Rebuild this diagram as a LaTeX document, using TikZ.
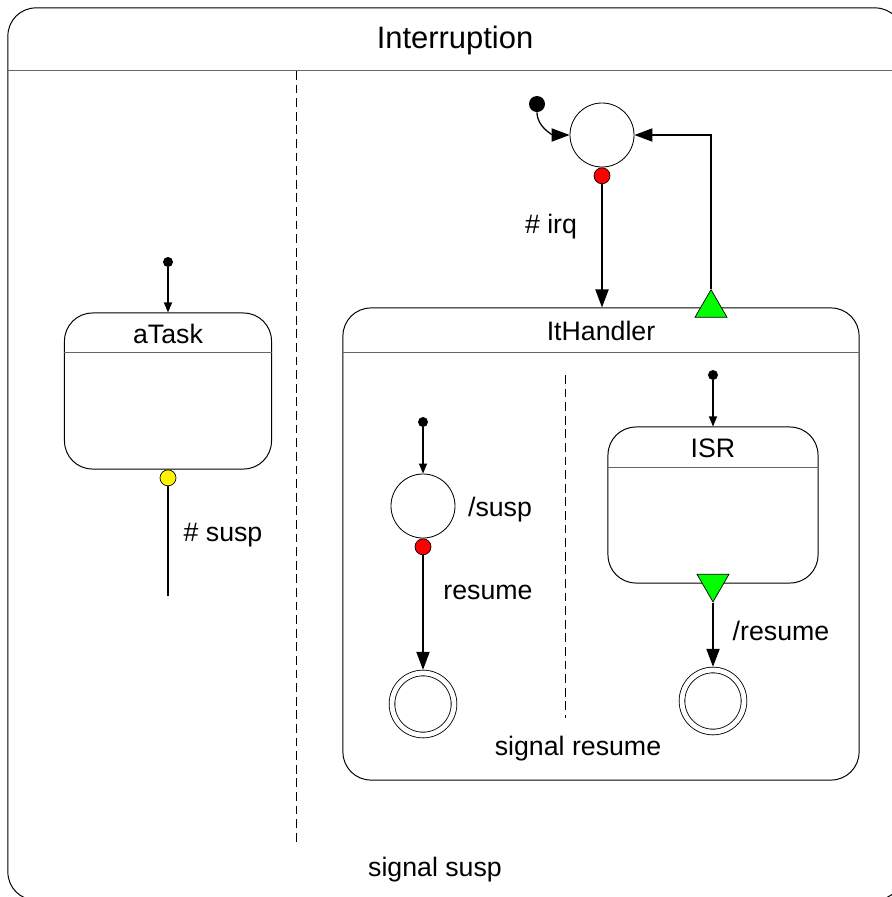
\documentclass[tikz,border=0pt]{standalone}
\usepackage{fontspec}
\setmainfont{Liberation Sans}
\usetikzlibrary{arrows.meta,shapes.geometric,positioning}

\begin{document}
\begin{tikzpicture}[
  x=0.025cm,y=-0.025cm,
  font=\fontsize{19}{22}\selectfont,
  sbox/.style={rectangle,draw,rounded corners=0.7cm,line width=0.7pt,inner sep=0pt},
  hline/.style={draw=black!60,line width=0.8pt},
  region/.style={line width=0.7pt,dash pattern=on 0.22cm off 0.12cm},
  simple/.style={circle,draw,line width=0.6pt,minimum size=1.6cm,inner sep=0pt},
  final/.style={circle,draw,line width=0.6pt,double,double distance=0.12cm,minimum size=1.55cm,inner sep=0pt,outer sep=0.08cm},
  init/.style={circle,fill,inner sep=0pt,minimum size=#1},
  init/.default=0.25cm,
  exitdot/.style={circle,draw,line width=0.5pt,fill=#1,inner sep=0pt,minimum size=0.4cm},
  gpin/.style={regular polygon,regular polygon sides=3,draw,fill=green,line width=0.5pt,inner sep=0pt,minimum size=0.92cm},
  iarrow/.style={line width=0.8pt,-{Triangle[length=0.25cm,width=0.2cm]}},
  arrow/.style={line width=0.9pt,-{Triangle[length=0.45cm,width=0.33cm]}},
  lbl/.style={inner sep=0pt}
]
  \clip (0,0) rectangle (892,897);

  % Interruption
  \node[sbox,minimum width=22.375cm,minimum height=22.3cm] (interruption) at (455.5,454) {};
  \node[lbl,font=\fontsize{22}{26}\selectfont] (interruptiont) at (455,40) {Interruption};
  \draw[hline] ([yshift=-1.575cm]interruption.north west) -- ([yshift=-1.575cm]interruption.north east);
  \draw[region] (296,71) -- (296,843);

  % aTask region
  \node[init] (init1) at (168,262) {};
  \node[sbox,minimum width=5.175cm,minimum height=3.9cm] (atask) at (168,391) {};
  \node[lbl] (ataskt) at (168,334) {aTask};
  \draw[hline] ([yshift=-1cm]atask.north west) -- ([yshift=-1cm]atask.north east);
  \node[exitdot=yellow,below=0pt of atask] (suspdot) {};
  \coordinate (suspend) at (168,596);
  \node[lbl] (susplbl) at (223,535) {\# susp};
  \draw[iarrow] (init1) -- (atask);
  \draw[line width=0.8pt] (suspdot) -- (suspend);

  % irq region
  \node[init=0.4cm] (init0) at (537,104) {};
  \node[simple] (irqstate) at (602,135) {};
  \node[exitdot=red,below=0pt of irqstate] (irqdot) {};
  \node[sbox,minimum width=12.9cm,minimum height=11.8cm] (ithandler) at (601,544) {};
  \node[lbl] (ithandlert) at (601,331) {ItHandler};
  \draw[hline] ([yshift=-1.125cm]ithandler.north west) -- ([yshift=-1.125cm]ithandler.north east);
  \node[gpin] (donepin) at (711,308) {};
  \node[lbl] (irqlbl) at (551,227) {\# irq};
  \draw[arrow] (init0) to[out=-90,in=180] (irqstate);
  \draw[arrow] (irqdot) -- (ithandler.north -| irqdot);
  \draw[arrow] (donepin.corner 1) |- (irqstate);

  % ItHandler: left region
  \draw[region] (565,375) -- (565,718);
  \node[init] (init2) at (423,422) {};
  \node[simple] (suspstate) at (423,506) {};
  \node[exitdot=red,below=0pt of suspstate] (resumedot) {};
  \node[final] (final1) at (423,704) {};
  \node[lbl] (susplbl2) at (500,510) {/susp};
  \node[lbl] (resumelbl) at (488,592) {resume};
  \draw[iarrow] (init2) -- (suspstate);
  \draw[arrow] (resumedot) -- (final1);

  % ItHandler: right region
  \node[init] (init3) at (713,375) {};
  \node[sbox,minimum width=5.25cm,minimum height=3.9cm] (isr) at (713,505) {};
  \node[lbl] (isrt) at (713,448) {ISR};
  \draw[hline] ([yshift=-1.025cm]isr.north west) -- ([yshift=-1.025cm]isr.north east);
  \node[gpin,shape border rotate=180] (isrpin) at (isr.south) {};
  \node[final] (final2) at (713,701) {};
  \node[lbl] (resumelbl2) at (781,631) {/resume};
  \draw[iarrow] (init3) -- (isr);
  \draw[arrow] (isrpin.corner 1) -- (final2);

  % signals
  \node[lbl] (signalres) at (578,749) {signal resume};
  \node[lbl] (signalsusp) at (435,870) {signal susp};
\end{tikzpicture}
\end{document}
